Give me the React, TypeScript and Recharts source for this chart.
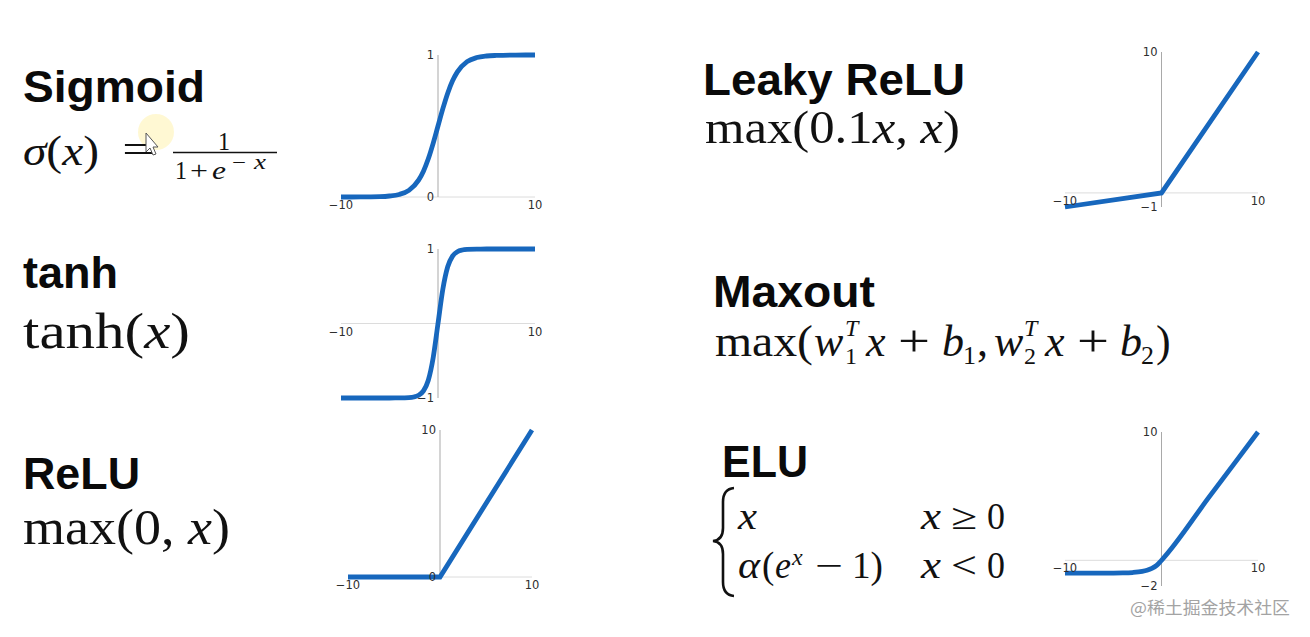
import { LineChart, Line, XAxis, YAxis, ReferenceLine, ReferenceDot } from 'recharts';

const BLUE = '#1767bd';
const TICK_FONT = '"DejaVu Sans", sans-serif';
const HEAD_FONT = '"Liberation Sans", Arial, sans-serif';
const MATH_FONT = '"Liberation Serif", "DejaVu Serif", serif';

// shared x ticks
const X_TICKS = [-10, 10];

// sigmoid samples
const SIGMOID_X = [-10, -8, -6, -5, -4, -3, -2, -1.5, -1, -0.5, 0, 0.5, 1, 1.5, 2, 3, 4, 5, 6, 8, 10];
const SIGMOID_Y = [0, 0.0003, 0.0025, 0.007, 0.018, 0.047, 0.119, 0.182, 0.269, 0.378, 0.5, 0.622, 0.731, 0.818, 0.881, 0.953, 0.982, 0.993, 0.997, 0.9997, 1];
const SIGMOID_Y_TICKS = [0, 1];

// tanh samples
const TANH_X = [-10, -5, -4, -3, -2.5, -2, -1.5, -1, -0.5, 0, 0.5, 1, 1.5, 2, 2.5, 3, 4, 5, 10];
const TANH_Y = [-1, -0.9999, -0.999, -0.995, -0.987, -0.964, -0.905, -0.762, -0.462, 0, 0.462, 0.762, 0.905, 0.964, 0.987, 0.995, 0.999, 0.9999, 1];
const TANH_Y_TICKS = [-1, 1];

// relu
const RELU_X = [-10, 0, 10];
const RELU_Y = [0, 0, 10];
const RELU_Y_TICKS = [0, 10];

// leaky relu
const LEAKY_X = [-10, 0, 10];
const LEAKY_Y = [-1, 0, 10];
const LEAKY_Y_TICKS = [-1, 10];

// elu
const ELU_X = [-10, -6, -4, -3, -2, -1.5, -1, -0.5, 0, 5, 10];
const ELU_Y = [-1, -0.998, -0.982, -0.95, -0.865, -0.777, -0.632, -0.393, 0, 5, 10];
const ELU_Y_TICKS = [-2, 10];

const M = { top: 14, right: 24, bottom: 24, left: 30 };

const fmt = (t: number) => (t < 0 ? `\u2212${Math.abs(t)}` : `${t}`);

type ChartProps = {
  left: number;
  top: number;
  w: number;
  h: number;
  xs: number[];
  ys: number[];
  yTicks: number[];
  curve: 'monotone' | 'linear';
};

function ActivationChart({ left, top, w, h, xs, ys, yTicks, curve }: ChartProps) {
  const data = xs.map((x, i) => ({ x, y: ys[i] }));
  const yDomain = [yTicks[0], yTicks[yTicks.length - 1]];
  const labelStyle = { fill: '#2e2e2e', fontSize: 11.5, fontFamily: TICK_FONT };
  return (
    <div style={{ position: 'absolute', left: left - M.left, top: top - M.top }}>
      <LineChart width={w + M.left + M.right} height={h + M.top + M.bottom} data={data} margin={M}>
        <XAxis type="number" dataKey="x" domain={[-10, 10]} ticks={X_TICKS} hide />
        <YAxis type="number" domain={yDomain} ticks={yTicks} hide />
        <ReferenceLine y={0} stroke="#dcdcdc" strokeWidth={1} />
        <ReferenceLine x={0} stroke="#a9a9a9" strokeWidth={1} />
        <Line
          type={curve}
          dataKey="y"
          stroke={BLUE}
          strokeWidth={4.8}
          dot={false}
          isAnimationActive={false}
        />
        {yTicks.map((t) => (
          <ReferenceDot
            key={'y' + t}
            x={0}
            y={t}
            r={0}
            stroke="none"
            label={{ value: fmt(t), position: 'left', offset: 4, ...labelStyle }}
          />
        ))}
        {X_TICKS.map((t) => (
          <ReferenceDot
            key={'x' + t}
            x={t}
            y={0}
            r={0}
            stroke="none"
            label={{ value: fmt(t), position: 'bottom', offset: 4, ...labelStyle }}
          />
        ))}
      </LineChart>
    </div>
  );
}

function Texts() {
  const it = { fontStyle: 'italic' as const };
  const sg = 'spacingAndGlyphs';
  return (
    <svg width={1310} height={637} style={{ position: 'absolute', left: 0, top: 0 }}>
      {/* headings */}
      <g fontFamily={HEAD_FONT} fontWeight="bold" fontSize={45} fill="#0a0a0a">
        <text x={23} y={102} textLength={182} lengthAdjust={sg}>Sigmoid</text>
        <text x={23} y={288} textLength={95} lengthAdjust={sg}>tanh</text>
        <text x={23} y={489} textLength={117} lengthAdjust={sg}>ReLU</text>
        <text x={703} y={95} textLength={262} lengthAdjust={sg}>Leaky ReLU</text>
        <text x={713} y={307} textLength={162} lengthAdjust={sg}>Maxout</text>
        <text x={722} y={477} textLength={86} lengthAdjust={sg}>ELU</text>
      </g>

      {/* cursor highlight */}
      <circle cx={156} cy={132} r={18} fill="#fff6c4" opacity={0.75} />

      <g fontFamily={MATH_FONT} fill="#111">
        {/* sigmoid */}
        <text x={23} y={165} fontSize={42} textLength={76} lengthAdjust={sg}>
          <tspan {...it}>σ</tspan>(<tspan {...it}>x</tspan>)
        </text>
        <text x={122} y={163} fontSize={40} textLength={33} lengthAdjust={sg}>=</text>
        <text x={218} y={150} fontSize={26} textLength={12} lengthAdjust={sg}>1</text>
        <line x1={173} x2={277} y1={152.5} y2={152.5} stroke="#111" strokeWidth={1.5} />
        <text x={175} y={179} fontSize={26} textLength={12} lengthAdjust={sg}>1</text>
        <text x={190} y={179} fontSize={26} textLength={18} lengthAdjust={sg}>+</text>
        <text x={212} y={179} fontSize={26} textLength={14} lengthAdjust={sg} {...it}>e</text>
        <text x={232} y={169} fontSize={19} textLength={14} lengthAdjust={sg}>−</text>
        <text x={254} y={169} fontSize={20} textLength={12} lengthAdjust={sg} {...it}>x</text>

        {/* tanh */}
        <text x={23} y={348} fontSize={50} textLength={167} lengthAdjust={sg}>
          tanh(<tspan {...it}>x</tspan>)
        </text>

        {/* relu */}
        <text x={23} y={544} fontSize={50} textLength={207} lengthAdjust={sg}>
          max(0, <tspan {...it}>x</tspan>)
        </text>

        {/* leaky relu */}
        <text x={705} y={143} fontSize={46} textLength={255} lengthAdjust={sg}>
          max(0.1<tspan {...it}>x</tspan>, <tspan {...it}>x</tspan>)
        </text>

        {/* maxout */}
        <g fontSize={44}>
          <text x={715} y={356} textLength={98} lengthAdjust={sg}>max(</text>
          <text x={814} y={356} {...it}>w</text>
          <text x={845} y={336} fontSize={24} {...it}>T</text>
          <text x={845} y={364} fontSize={24}>1</text>
          <text x={866} y={356} {...it}>x</text>
          <text x={898} y={356} textLength={32} lengthAdjust={sg}>+</text>
          <text x={942} y={356} {...it}>b</text>
          <text x={963} y={364} fontSize={26}>1</text>
          <text x={977} y={356}>,</text>
          <text x={994} y={356} {...it}>w</text>
          <text x={1024} y={336} fontSize={24} {...it}>T</text>
          <text x={1024} y={364} fontSize={24}>2</text>
          <text x={1045} y={356} {...it}>x</text>
          <text x={1077} y={356} textLength={32} lengthAdjust={sg}>+</text>
          <text x={1120} y={356} {...it}>b</text>
          <text x={1141} y={364} fontSize={26}>2</text>
          <text x={1156} y={356}>)</text>
        </g>

        {/* elu */}
        <path
          d="M734 488 Q723 489 723 502 L723 528 Q723 540 713 541 Q723 542 723 554 L723 582 Q723 595 734 596"
          fill="none"
          stroke="#111"
          strokeWidth={2.6}
        />
        <g fontSize={37}>
          <text x={738} y={529} textLength={19} lengthAdjust={sg} {...it}>x</text>
          <text x={921} y={529} textLength={20} lengthAdjust={sg} {...it}>x</text>
          <text x={951} y={529} textLength={26} lengthAdjust={sg}>≥</text>
          <text x={987} y={529} textLength={18} lengthAdjust={sg}>0</text>
          <text x={738} y={578} textLength={22} lengthAdjust={sg} {...it}>α</text>
          <text x={762} y={578}>(</text>
          <text x={775} y={578} textLength={16} lengthAdjust={sg} {...it}>e</text>
          <text x={792} y={565} fontSize={24} {...it}>x</text>
          <text x={815} y={578} textLength={28} lengthAdjust={sg}>−</text>
          <text x={852} y={578} textLength={31} lengthAdjust={sg}>1)</text>
          <text x={921} y={578} textLength={20} lengthAdjust={sg} {...it}>x</text>
          <text x={951} y={578} textLength={26} lengthAdjust={sg}>&lt;</text>
          <text x={987} y={578} textLength={18} lengthAdjust={sg}>0</text>
        </g>
      </g>

      {/* mouse cursor */}
      <path
        d="M146 133 L146 152 L150 148 L153 155 L156 154 L153 147 L158 147 Z"
        fill="#fff"
        stroke="#555"
        strokeWidth={1}
      />

      {/* watermark */}
      <text
        x={1130}
        y={614}
        fontSize={17}
        fill="#a3a3a3"
        fontFamily='"Noto Sans CJK SC", sans-serif'
        textLength={160}
        lengthAdjust={sg}
      >
        @稀土掘金技术社区
      </text>
    </svg>
  );
}

export default function App() {
  return (
    <div style={{ position: 'absolute', left: 0, top: 0, width: 1310, height: 637, background: '#fff', overflow: 'hidden' }}>
      <Texts />
      <ActivationChart left={341} top={55} w={194} h={142} xs={SIGMOID_X} ys={SIGMOID_Y} yTicks={SIGMOID_Y_TICKS} curve="monotone" />
      <ActivationChart left={341} top={249} w={194} h={149} xs={TANH_X} ys={TANH_Y} yTicks={TANH_Y_TICKS} curve="monotone" />
      <ActivationChart left={348} top={430} w={184} h={147} xs={RELU_X} ys={RELU_Y} yTicks={RELU_Y_TICKS} curve="linear" />
      <ActivationChart left={1065} top={52} w={193} h={155} xs={LEAKY_X} ys={LEAKY_Y} yTicks={LEAKY_Y_TICKS} curve="linear" />
      <ActivationChart left={1065} top={432} w={193} h={154} xs={ELU_X} ys={ELU_Y} yTicks={ELU_Y_TICKS} curve="monotone" />
    </div>
  );
}
